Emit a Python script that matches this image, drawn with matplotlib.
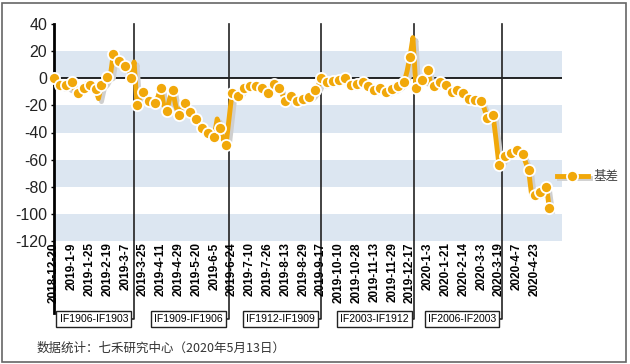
import matplotlib
matplotlib.use('Agg')

import matplotlib.pyplot as plt
import numpy as np
from matplotlib.transforms import ScaledTranslation, blended_transform_factory
from matplotlib.lines import Line2D
from matplotlib.patches import Rectangle

plt.rcParams['font.family'] = ['Liberation Sans', 'Noto Sans CJK SC', 'DejaVu Sans']

# basis (IF), one value every 2 trading days from 2018-12-20
basis = [0, -3, -5, -6, -5, -7, -3, -8, -11, -8,
         -7, -4, -5, -6, -8, -15, -5, -3, 1, 2,
         18, 16, 13, 11, 9, 8, 0, 12, -20, -14,
         -10, -15, -17, -16, -18, -14, -7, -20, -24, -15,
         -9, -20, -27, -22, -18, -22, -25, -28, -30, -34,
         -37, -38, -40, -44, -43, -30, -37, -45, -49, -30,
         -11, -10, -13, -9, -7, -6, -6, -5, -6, -6,
         -7, -9, -11, -7, -4, -5, -7, -12, -17, -14,
         -13, -16, -17, -16, -15, -14, -14, -12, -9, -6,
         0, -4, -3, -3, -2, -2, -1, -1, 0, -3,
         -5, -5, -4, -3, -3, -5, -6, -8, -9, -7,
         -7, -8, -10, -9, -8, -7, -6, -4, -3, 5,
         16, 30, -7, -1, -1, -2, 6, -4, -6, -4,
         -3, -2, -5, -8, -10, -9, -9, -8, -11, -14,
         -15, -15, -16, -17, -17, -22, -29, -27, -27, -45,
         -64, -60, -57, -56, -55, -54, -53, -54, -56, -62,
         -68, -86, -86, -85, -84, -82, -80, -96]

tick_labels = ['2018-12-20', '2019-1-9', '2019-1-25', '2019-2-19', '2019-3-7',
               '2019-3-25', '2019-4-11', '2019-4-29', '2019-5-20', '2019-6-5',
               '2019-6-24', '2019-7-10', '2019-7-26', '2019-8-13', '2019-8-29',
               '2019-9-17', '2019-10-10', '2019-10-28', '2019-11-13', '2019-11-29',
               '2019-12-17', '2020-1-3', '2020-1-21', '2020-2-14', '2020-3-3',
               '2020-3-19', '2020-4-7', '2020-4-23']

# contract rolls (trading day index) and their labels
roll_days = [54, 118, 180, 243, 302]
roll_labels = ['IF1906-IF1903', 'IF1909-IF1906', 'IF1912-IF1909',
               'IF2003-IF1912', 'IF2006-IF2003']

orange = '#F1A80A'
band = '#DCE6F1'

fig = plt.figure(figsize=(6.3, 3.64), dpi=100)
ax = fig.add_axes([54 / 630, 1 - 241 / 364, 508 / 630, 217 / 364])

days = np.arange(len(basis)) * 2
ax.set_xlim(0, 342.5)
ax.set_ylim(-120, 40)

for lo in [0, -40, -80, -120]:
    ax.axhspan(lo, lo + 20, color=band, lw=0, zorder=0)
ax.axhline(0, color='black', lw=1.2, zorder=1)

# dividers for contract rolls, down to the label boxes
bt = blended_transform_factory(ax.transData, ax.transAxes)
for d, lab in zip(roll_days, roll_labels):
    ax.plot([d, d, d - 2.5], [1.0, -0.36, -0.36], color='#222222', lw=1.2,
            transform=bt, clip_on=False, zorder=1)
    off = bt + ScaledTranslation(-6 / 100, 0, fig.dpi_scale_trans)
    ax.text(d, -0.36, lab, transform=off, ha='right', va='center', fontsize=7.5,
            bbox=dict(boxstyle='square,pad=0.3', fc='white', ec='#222222', lw=1))

# left axis line
ax.plot([0, 0], [1.0, -0.33], color='black', lw=2, transform=bt, clip_on=False, zorder=5)

marks = list(range(0, len(basis), 2)) + [len(basis) - 1]

# shadow
sh = ax.transData + ScaledTranslation(3 / 100, -3 / 100, fig.dpi_scale_trans)
ax.plot(days, basis, color='#cfcfcf', lw=3.5, transform=sh, zorder=2,
        solid_joinstyle='round')
ax.plot(days, basis, color=orange, lw=3.5, zorder=6, solid_joinstyle='round',
        marker='o', markevery=marks, ms=8, mfc=orange, mec='white', mew=1.3,
        clip_on=False)

for s in ax.spines.values():
    s.set_visible(False)

ax.set_yticks(range(-120, 41, 20))
ax.set_yticklabels([str(v) for v in range(-120, 41, 20)], fontsize=11.5, color='#222222')
ax.tick_params(axis='y', length=2, width=1, pad=3)
ax.set_xticks(np.arange(len(tick_labels)) * 12)
ax.set_xticklabels(tick_labels, rotation=90, fontsize=8.5, fontweight='bold')
ax.tick_params(axis='x', length=0, pad=1)

# legend
y_leg = 1 - 176 / 364
fig.add_artist(Line2D([559 / 630, 590 / 630], [y_leg - 2 / 364, y_leg - 2 / 364],
                      color='#cfcfcf', lw=3.5, transform=fig.transFigure))
fig.add_artist(Line2D([557 / 630, 588 / 630], [y_leg, y_leg], color=orange, lw=3.5,
                      transform=fig.transFigure))
fig.add_artist(Line2D([572 / 630], [y_leg], marker='o', ms=8, mfc=orange, mec='white',
                      mew=1.3, transform=fig.transFigure))
fig.text(593 / 630, y_leg, '基差', fontsize=9, color='#404040', va='center',
         family=['Noto Sans CJK SC'])

fig.text(37 / 630, 1 - 348 / 364, '数据统计：七禾研究中心（2020年5月13日）', fontsize=9,
         color='#333333', va='center', family=['Noto Sans CJK SC', 'DejaVu Sans'])

fig.add_artist(Rectangle((2 / 630, 2 / 364), 624 / 630, 359 / 364, fill=False,
                         ec='#666666', lw=1.2, transform=fig.transFigure))

fig.savefig('out.png', dpi=100)
